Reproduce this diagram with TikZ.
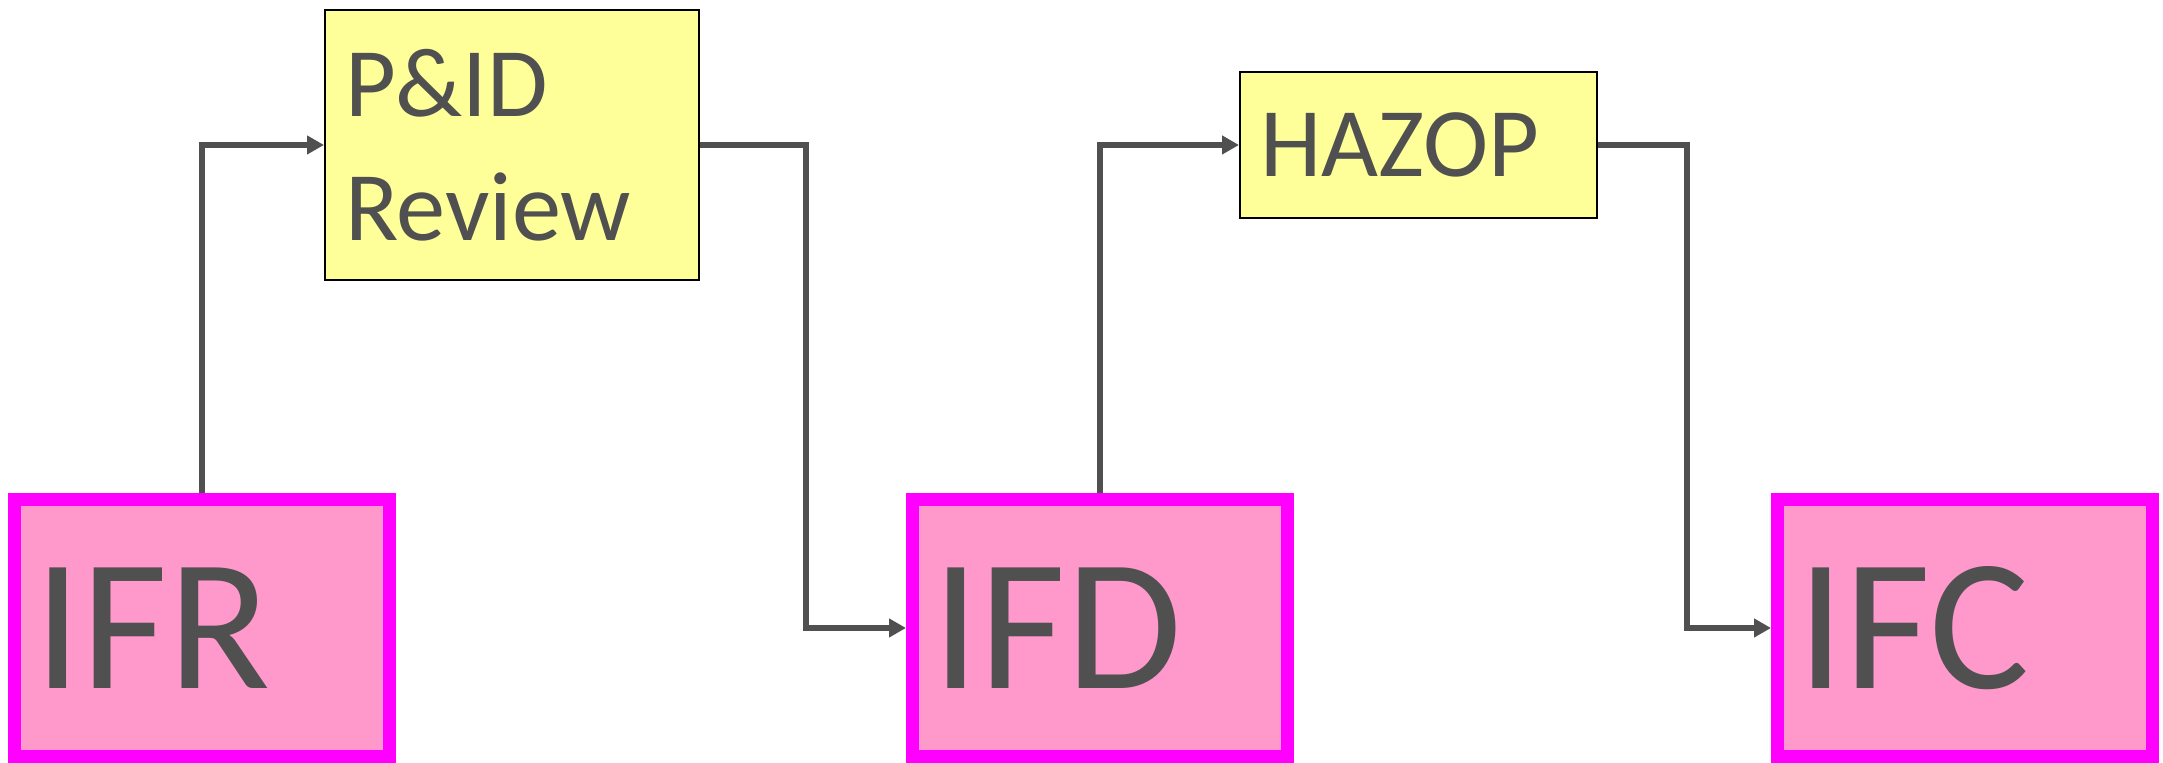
\documentclass[tikz,border=0pt]{standalone}
\usepackage{fontspec}
\setmainfont{Carlito}
\usepackage{xcolor}
\usepackage{tikz}
\usetikzlibrary{arrows.meta,positioning}
\definecolor{flowgray}{HTML}{505050}
\definecolor{reviewyellow}{HTML}{FFFF99}
\definecolor{stagepink}{HTML}{FF99CC}
\definecolor{stagemagenta}{HTML}{FF00FF}
\tikzset{
  stagebox/.style={draw=stagemagenta,fill=stagepink,line width=0.13cm,align=left,
    minimum width=3.75cm,minimum height=2.57cm,text width=3.35cm,inner xsep=0.2cm,
    text=flowgray,font=\fontsize{53.5}{64}\selectfont},
  reviewbox/.style={draw=black,fill=reviewyellow,line width=0.02cm,align=left,
    inner xsep=0.2cm,text=flowgray,font=\fontsize{28}{35.3}\selectfont},
  flowarrow/.style={-{Triangle[length=0.17cm,width=0.18cm]},line width=0.055cm,draw=flowgray}
}
\begin{document}
\begin{tikzpicture}
  \useasboundingbox (0,0) rectangle (21.63,7.63);
  \node[stagebox] (ifr) at (2.02,1.35) {IFR};
  \node[stagebox] (ifd) at (11.00,1.35) {IFD};
  \node[stagebox] (ifc) at (19.65,1.35) {IFC};
  \node[reviewbox,minimum width=3.74cm,minimum height=2.70cm,text width=3.34cm] (pid) at (5.12,6.18) {P\&ID\\Review};
  \node[reviewbox,minimum width=3.57cm,minimum height=1.46cm,text width=3.17cm] (hazop) at (14.185,6.18) {HAZOP};
  \draw[flowarrow] (ifr.north) |- (pid.west);
  \draw[flowarrow] (pid.east) -- ++(1.06,0) |- (ifd.west);
  \draw[flowarrow] (ifd.north) |- (hazop.west);
  \draw[flowarrow] (hazop.east) -- ++(0.89,0) |- (ifc.west);
\end{tikzpicture}
\end{document}
